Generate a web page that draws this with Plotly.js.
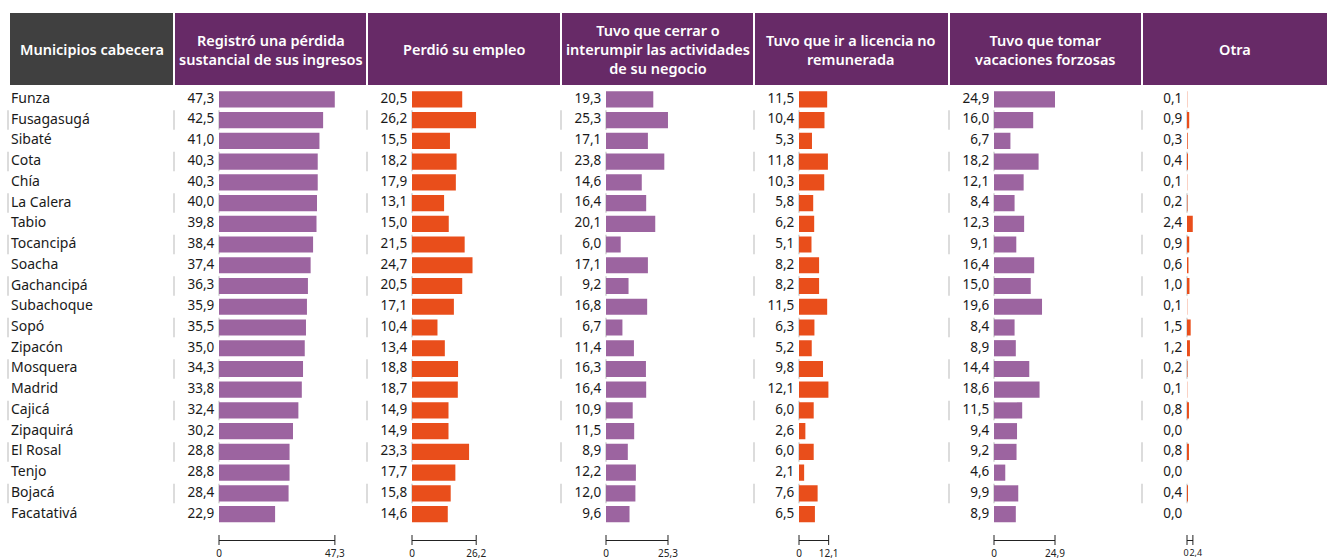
<!DOCTYPE html>
<html>
<head>
<meta charset="utf-8">
<script src="https://cdn.plot.ly/plotly-3.0.1.min.js"></script>
<style>
  html, body { margin: 0; padding: 0; background: #fff; }
  #chart { width: 1327px; height: 560px; }
</style>
</head>
<body>
<div id="chart"></div>
<script>
// municipios y porcentajes
const municipios = ["Funza", "Fusagasugá", "Sibaté", "Cota", "Chía", "La Calera", "Tabio",
  "Tocancipá", "Soacha", "Gachancipá", "Subachoque", "Sopó", "Zipacón", "Mosquera",
  "Madrid", "Cajicá", "Zipaquirá", "El Rosal", "Tenjo", "Bojacá", "Facatativá"];

const perdidaIngresos = [47.3, 42.5, 41.0, 40.3, 40.3, 40.0, 39.8, 38.4, 37.4, 36.3, 35.9,
  35.5, 35.0, 34.3, 33.8, 32.4, 30.2, 28.8, 28.8, 28.4, 22.9];
const perdioEmpleo = [20.5, 26.2, 15.5, 18.2, 17.9, 13.1, 15.0, 21.5, 24.7, 20.5, 17.1,
  10.4, 13.4, 18.8, 18.7, 14.9, 14.9, 23.3, 17.7, 15.8, 14.6];
const cerrarNegocio = [19.3, 25.3, 17.1, 23.8, 14.6, 16.4, 20.1, 6.0, 17.1, 9.2, 16.8,
  6.7, 11.4, 16.3, 16.4, 10.9, 11.5, 8.9, 12.2, 12.0, 9.6];
const licenciaNoRemunerada = [11.5, 10.4, 5.3, 11.8, 10.3, 5.8, 6.2, 5.1, 8.2, 8.2, 11.5,
  6.3, 5.2, 9.8, 12.1, 6.0, 2.6, 6.0, 2.1, 7.6, 6.5];
const vacacionesForzosas = [24.9, 16.0, 6.7, 18.2, 12.1, 8.4, 12.3, 9.1, 16.4, 15.0, 19.6,
  8.4, 8.9, 14.4, 18.6, 11.5, 9.4, 9.2, 4.6, 9.9, 8.9];
const otra = [0.1, 0.9, 0.3, 0.4, 0.1, 0.2, 2.4, 0.9, 0.6, 1.0, 0.1, 1.5, 1.2, 0.2, 0.1,
  0.8, 0.0, 0.8, 0.0, 0.4, 0.0];

const titulos = ["Registró una pérdida<br>sustancial de sus ingresos", "Perdió su empleo",
  "Tuvo que cerrar o<br>interumpir las actividades<br>de su negocio",
  "Tuvo que ir a licencia no<br>remunerada", "Tuvo que tomar<br>vacaciones forzosas", "Otra"];
const tituloMunicipios = "Municipios cabecera";

const series = [perdidaIngresos, perdioEmpleo, cerrarNegocio, licenciaNoRemunerada,
  vacacionesForzosas, otra];

const W = 1327, H = 560;
const MORADO = "#9c64a0", NARANJA = "#e94e1b";
const colores = [MORADO, NARANJA, MORADO, NARANJA, MORADO, NARANJA];
const FONT = "Noto Sans, Open Sans, sans-serif";

// pixel -> paper
function px(x) { return x / W; }
function py(y) { return 1 - y / H; }
function coma(v) { return v.toFixed(1).replace(".", ","); }

// cajas de encabezado (pixeles)
const cajas = [[10, 173], [175, 366], [368, 560], [562, 753], [755, 948], [950, 1141], [1143, 1327]];
const headTop = 13, headBottom = 85;
const rowTop = 89, rowBottom = 524.5;
const escala = 2.45;   // px por punto porcentual
const ejeY = 540;

var data = [];
var layout = {
  width: W, height: H,
  margin: { l: 0, r: 0, t: 0, b: 0 },
  paper_bgcolor: "#fff", plot_bgcolor: "rgba(0,0,0,0)",
  showlegend: false,
  bargap: 0.22,
  font: { family: FONT, color: "#222", size: 13 },
  yaxis: {
    domain: [py(rowBottom), py(rowTop)],
    range: [municipios.length - 0.5, -0.5],
    type: "category", visible: false, fixedrange: true
  },
  xaxis: { domain: [px(11), px(173)], range: [0, 1], visible: false, anchor: "y" },
  shapes: [],
  annotations: []
};

// nombres de municipios
data.push({
  type: "scatter", mode: "text", x: municipios.map(() => 0), y: municipios,
  text: municipios, textposition: "middle right", xaxis: "x", yaxis: "y",
  textfont: { family: FONT, size: 14, color: "#1a1a1a" }, hoverinfo: "skip", cliponaxis: false
});

series.forEach(function (vals, i) {
  var n = i + 2;
  var ax = "x" + n;
  var maxv = Math.max.apply(null, vals);
  var x0 = cajas[i + 1][0] + 44;
  var ancho = maxv * escala;
  var corto = ancho < 20;
  layout["xaxis" + n] = {
    domain: [px(x0), px(x0 + ancho)],
    range: [0, maxv],
    anchor: "free", position: py(ejeY),
    showgrid: false, zeroline: false, showline: true, linecolor: "#222", linewidth: 1,
    ticks: "", tickvals: [0, maxv], ticktext: ["0", coma(maxv)], tickangle: 0,
    ticklabelstandoff: 4,
    // eje muy corto: etiquetas a la derecha de cada marca para que no choquen
    ticklabelposition: corto ? "outside right" : "outside",
    ticklabelshift: corto ? -4 : 0,
    tickfont: { family: FONT, size: corto ? 9 : 10, color: "#222" }, fixedrange: true
  };
  data.push({
    type: "bar", orientation: "h", x: vals, y: municipios, xaxis: ax, yaxis: "y",
    marker: { color: colores[i] }, hoverinfo: "x+y"
  });
  // etiquetas de valor a la izquierda de la barra (marcador invisible da el margen)
  data.push({
    type: "scatter", mode: "markers+text", x: vals.map(() => 0), y: municipios, xaxis: ax, yaxis: "y",
    text: vals.map(coma), textposition: "middle left", cliponaxis: false,
    marker: { size: 6, opacity: 0 },
    textfont: { family: FONT, size: 13.5, color: "#1a1a1a" }, hoverinfo: "skip"
  });
  // marcas del eje que cruzan la linea
  [0, 1].forEach(function (d) {
    layout.shapes.push({
      type: "line", xref: ax + " domain", yref: "paper",
      x0: d, x1: d, y0: py(ejeY - 5), y1: py(ejeY + 5),
      line: { color: "#222", width: 1 }
    });
  });
  // lineas grises suaves en filas impares, en el inicio de las barras
  municipios.forEach(function (m, r) {
    if (r % 2 === 1) {
      layout.shapes.push({
        type: "line", xref: ax + " domain", yref: "y", layer: "below",
        x0: 0, x1: 0, y0: r - 0.47, y1: r + 0.47,
        line: { color: "#dcdcdc", width: 2 }
      });
    }
  });
});

// bordes grises en filas impares
var bordes = [8, 174, 367, 561, 754, 949, 1142];
municipios.forEach(function (m, r) {
  if (r % 2 === 1) {
    bordes.forEach(function (b) {
      layout.shapes.push({
        type: "line", xref: "paper", yref: "y", layer: "below",
        x0: px(b), x1: px(b), y0: r - 0.47, y1: r + 0.47,
        line: { color: "#dcdcdc", width: 2 }
      });
    });
  }
});

// encabezados
cajas.forEach(function (c, i) {
  layout.shapes.push({
    type: "rect", xref: "paper", yref: "paper",
    x0: px(c[0]), x1: px(c[1]), y0: py(headBottom), y1: py(headTop),
    fillcolor: i === 0 ? "#404040" : "#672a67", line: { width: 0 }
  });
  layout.annotations.push({
    xref: "paper", yref: "paper", x: px((c[0] + c[1]) / 2), y: py((headTop + headBottom) / 2),
    xanchor: "center", yanchor: "middle", showarrow: false,
    text: i === 0 ? tituloMunicipios : titulos[i - 1],
    font: { family: FONT, size: 14.5, color: "#fff", weight: 600 }
  });
});

Plotly.newPlot("chart", data, layout, { displayModeBar: false, staticPlot: true });
</script>
</body>
</html>
